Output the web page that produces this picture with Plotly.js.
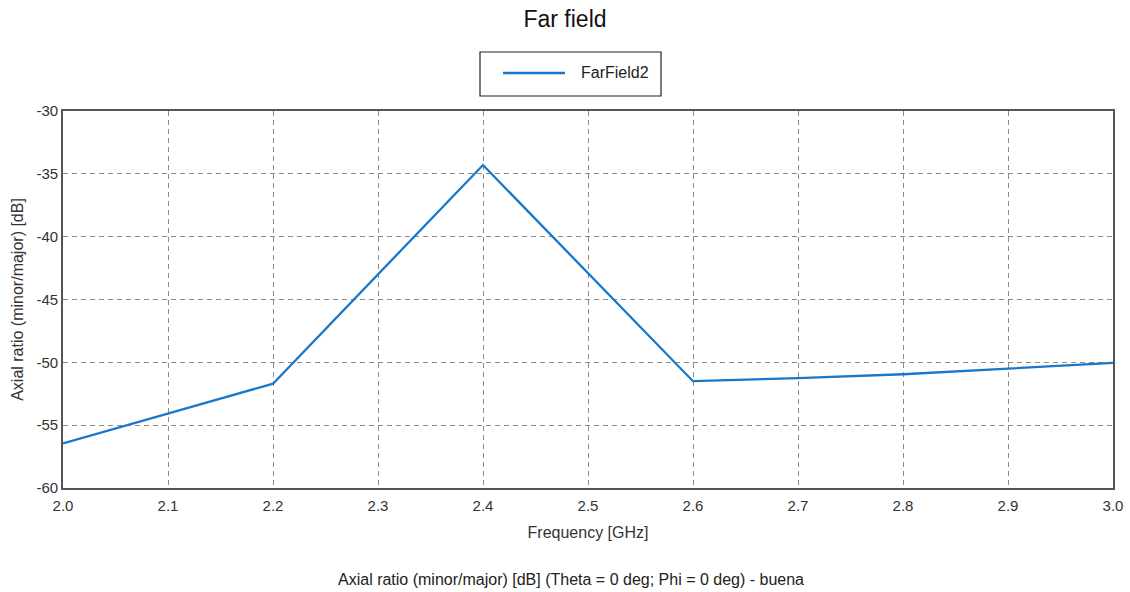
<!DOCTYPE html>
<html><head><meta charset="utf-8">
<script src="https://cdn.plot.ly/plotly-3.0.1.min.js"></script>
<style>html,body{margin:0;padding:0;background:#fff}#chart{width:1130px;height:592px}</style>
</head><body><div id="chart"></div>
<script>
const freq = [2.0, 2.2, 2.4, 2.6, 2.7, 2.8, 2.9, 3.0];
const axialRatio = [-56.45, -51.7, -34.3, -51.5, -51.25, -50.95, -50.5, -50.05];
const seriesName = 'FarField2';
const xTicks = [2.0, 2.1, 2.2, 2.3, 2.4, 2.5, 2.6, 2.7, 2.8, 2.9, 3.0];
const xTickLabels = ['2.0','2.1','2.2','2.3','2.4','2.5','2.6','2.7','2.8','2.9','3.0'];
const yTicks = [-60, -55, -50, -45, -40, -35, -30];
const yTickLabels = ['-60','-55','-50','-45','-40','-35','-30'];

const font = 'Liberation Sans, Arial, sans-serif';
const W = 1130, H = 592, M = {l: 63, r: 17, t: 111, b: 104};
const pw = W - M.l - M.r, ph = H - M.t - M.b;
const px = v => (v - M.l) / pw;           // pixel -> paper x
const py = v => (H - M.b - v) / ph;       // pixel -> paper y
const lineColor = '#1877c9';

Plotly.newPlot('chart', [{
  x: freq, y: axialRatio, type: 'scatter', mode: 'lines', name: seriesName,
  line: {color: lineColor, width: 2.3}, showlegend: false
}], {
  width: W, height: H,
  margin: M,
  paper_bgcolor: '#fff', plot_bgcolor: '#fff',
  font: {family: font, color: '#222', size: 16},
  title: {text: 'Far field', x: 0.5, xanchor: 'center', y: 1 - 19 / H, yanchor: 'middle', font: {size: 23, color: '#111', family: font}},
  showlegend: false,
  xaxis: {range: [2.0, 3.0], tickvals: xTicks, ticktext: xTickLabels, showgrid: true,
    gridcolor: '#8c8c8c', griddash: '5px,4px', gridwidth: 1, showline: true, linecolor: '#555', linewidth: 1.6,
    mirror: true, ticks: '', zeroline: false, tickfont: {size: 15, color: '#333'}, ticklabelstandoff: 3,
    title: {text: 'Frequency [GHz]', font: {size: 16, color: '#333'}, standoff: 14}},
  yaxis: {range: [-60, -30], tickvals: yTicks, ticktext: yTickLabels, showgrid: true,
    gridcolor: '#8c8c8c', griddash: '5px,4px', gridwidth: 1, showline: true, linecolor: '#555', linewidth: 1.6,
    mirror: true, ticks: '', zeroline: false, tickfont: {size: 15, color: '#333'},
    title: {text: 'Axial ratio (minor/major) [dB]', font: {size: 16, color: '#333'}, standoff: 9}},
  shapes: [
    {type: 'rect', xref: 'paper', yref: 'paper', x0: px(480), x1: px(661), y0: py(96), y1: py(52),
      line: {color: '#222', width: 1.2}, fillcolor: '#fff'},
    {type: 'line', xref: 'paper', yref: 'paper', x0: px(503), x1: px(565), y0: py(73), y1: py(73),
      line: {color: lineColor, width: 2.5}}
  ],
  annotations: [
    {text: seriesName, xref: 'paper', yref: 'paper', x: px(579), y: py(73), xanchor: 'left', yanchor: 'middle',
      showarrow: false, font: {size: 16, color: '#222'}},
    {text: 'Axial ratio (minor/major) [dB] (Theta = 0 deg; Phi = 0 deg) - buena',
    xref: 'paper', yref: 'paper', x: px(571), y: py(579), xanchor: 'center', yanchor: 'middle', showarrow: false,
    font: {size: 16, color: '#222'}}]
}, {displayModeBar: false});
</script></body></html>
